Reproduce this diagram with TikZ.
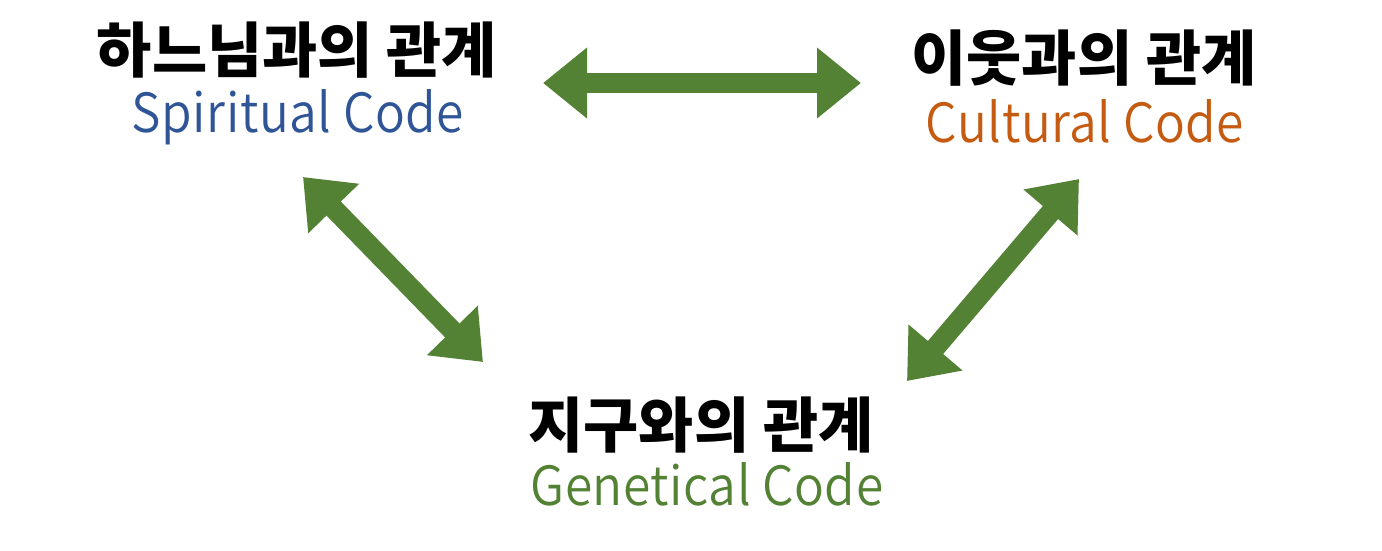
\documentclass[tikz,border=0pt]{standalone}
\usepackage{fontspec}
\setmainfont{Noto Sans CJK KR}
\newfontfamily\kofont{Noto Sans CJK KR}
\newfontfamily\latfont[FakeStretch=0.92,LetterSpace=1.0]{Noto Sans CJK KR DemiLight}
\usetikzlibrary{arrows.meta}
\definecolor{arrgreen}{HTML}{548235}
\definecolor{spblue}{HTML}{2F5597}
\definecolor{cuorange}{HTML}{C55A11}
\definecolor{gegreen}{HTML}{548235}
\begin{document}
\begin{tikzpicture}[x=1pt,y=-1pt,
  title/.style={font=\kofont\bfseries\fontsize{60}{64}\selectfont, inner sep=0pt, anchor=center},
  sub/.style={font=\latfont\fontsize{54}{60}\selectfont, inner sep=0pt, anchor=base},
  fatarrow/.style={draw=arrgreen, line width=20pt,
    {Triangle[width=68pt,length=44pt]}-{Triangle[width=68pt,length=44pt]}}]
\fill[white] (0,0) rectangle (1382,550);
\useasboundingbox (0,0) rectangle (1382,550);
% texts
\node[title] (t1) at (297,50) {하느님과의 관계};
\node[sub, text=spblue] (s1) at (298,132) {Spiritual Code};
\node[title] (t2) at (1084,58) {이웃과의 관계};
\node[sub, text=cuorange] (s2) at (1085,142) {Cultural Code};
\node[title] (t3) at (701,425) {지구와의 관계};
\node[sub, text=gegreen] (s3) at (707,505) {Genetical Code};
% arrow ends
\coordinate (a1) at (543,83);
\coordinate (a2) at (861,83);
\coordinate (b1) at (303,177);
\coordinate (b2) at (483,362);
\coordinate (c1) at (907,381);
\coordinate (c2) at (1079,179);
\draw[fatarrow] (a1) -- (a2);
\draw[fatarrow] (b1) -- (b2);
\draw[fatarrow] (c1) -- (c2);
\end{tikzpicture}
\end{document}
